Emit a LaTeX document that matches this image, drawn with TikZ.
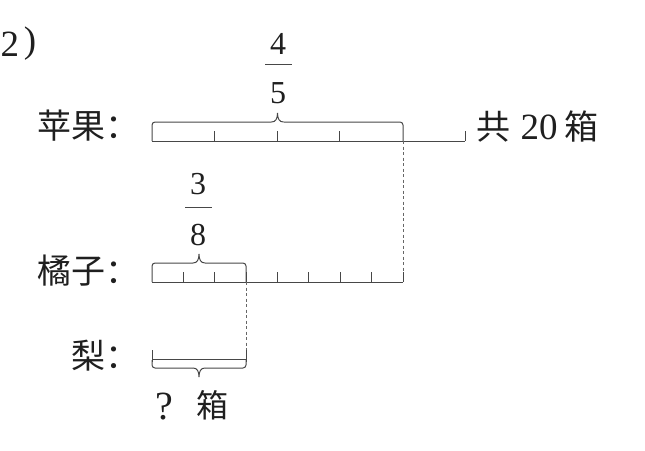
\documentclass[tikz,border=0pt]{standalone}
\usepackage{fontspec}
\setmainfont{Liberation Serif}
\newfontfamily\cjk{Noto Sans CJK SC}
\tikzset{
  ln/.style={draw=black!72,line width=1pt},
  dsh/.style={draw=black!60,line width=0.8pt,dash pattern=on 3pt off 2.5pt},
  txt/.style={inner sep=0pt,text=black!88},
  cjklab/.style={txt,font=\cjk\fontsize{34}{36}\selectfont},
  num/.style={txt,font=\fontsize{32}{34}\selectfont},
  bignum/.style={txt,font=\fontsize{37}{39}\selectfont},
}
% top brace: x1, x2, yline, ytop, xm
\newcommand{\topbrace}[5]{%
  \draw[ln,rounded corners=3pt] (#1,#3) -- (#1,#4) -- ({#5-6},#4);
  \draw[ln] ({#5-6},#4) .. controls ({#5-2},#4) and (#5,{#4-3}) .. (#5,{#4-9})
            .. controls (#5,{#4-3}) and ({#5+2},#4) .. ({#5+6},#4);
  \draw[ln,rounded corners=3pt] ({#5+6},#4) -- (#2,#4) -- (#2,#3);}
\begin{document}
\begin{tikzpicture}[x=1pt,y=-1pt]
\useasboundingbox (0,0) rectangle (645,450);
% title
\node[bignum] (n2) at (10,44) {2};
\node[bignum] (np) at (30,44) {)};
% labels
\node[cjklab,anchor=east] (lapple) at (140,126) {苹果：};
\node[cjklab,anchor=east] (lorange) at (140,271) {橘子：};
\node[cjklab,anchor=east] (lpear) at (140,356) {梨：};
% apple bar
\draw[ln] (152,141) -- (465,141);
\foreach \x in {214.6,277.2,339.8,465} \draw[ln] (\x,131) -- (\x,141);
\topbrace{152}{403}{141}{122}{277.5}
\coordinate (aend) at (403,141);
% fraction 4/5
\node[num] (f4) at (278,44) {4};
\draw[ln] (265,64) -- (292,64);
\node[num] (f5) at (278,93) {5};
% total
\node[cjklab] (gong) at (493,127) {共};
\node[bignum] (twenty) at (539,127) {20};
\node[cjklab] (xiang) at (581,127) {箱};
% orange bar
\draw[ln] (152,282) -- (403,282);
\foreach \i in {1,...,8} \draw[ln] ({152+\i*31.375},272) -- ({152+\i*31.375},282);
\topbrace{152}{246}{282}{263}{199}
\coordinate (oend) at (403,272);
\coordinate (othree) at (246,282);
% fraction 3/8
\node[num] (f3) at (198,184) {3};
\draw[ln] (185,207) -- (212,207);
\node[num] (f8) at (198,235) {8};
% dashed
\draw[dsh] (aend) -- (oend);
\draw[dsh] (othree) -- (246,350) coordinate (pend);
% pear bar
\draw[ln] (152,359) -- (246,359);
\draw[ln] (152,350) -- (152,362);
\draw[ln] (246,350) -- (246,362);
\draw[ln,rounded corners=3pt] (152,360) -- (152,368) -- (193,368);
\draw[ln] (193,368) .. controls (197,368) and (199,371) .. (199,377)
          .. controls (199,371) and (201,368) .. (205,368);
\draw[ln,rounded corners=3pt] (205,368) -- (246,368) -- (246,360);
% question
\node[txt,font=\fontsize{40}{42}\selectfont] (q) at (164,407) {?};
\node[txt,font=\cjk\fontsize{32}{34}\selectfont] (qx) at (212,405) {箱};
\end{tikzpicture}
\end{document}
